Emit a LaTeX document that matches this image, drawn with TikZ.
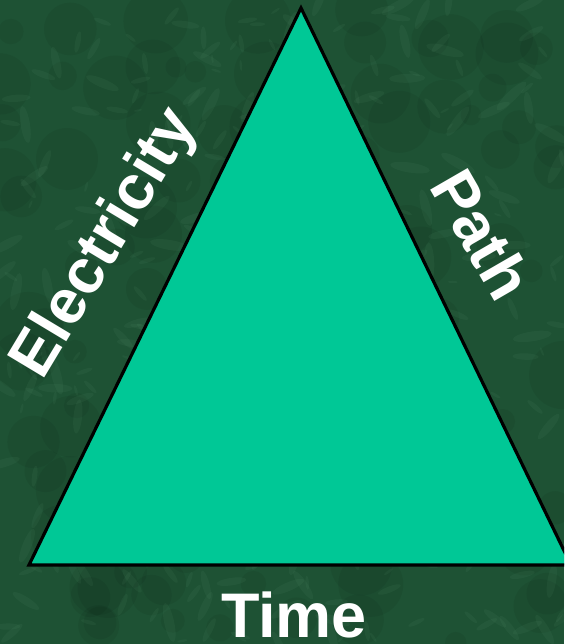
\documentclass[tikz,border=0pt]{standalone}
\usepackage{fontspec}
\setmainfont{Liberation Sans}
\usetikzlibrary{positioning}
\definecolor{marble}{RGB}{30,82,52}
\definecolor{vein}{RGB}{120,180,140}
\definecolor{triteal}{RGB}{0,200,150}

\begin{document}
\begin{tikzpicture}[
    x=1pt, y=-1pt,
    side/.style={text=white, font=\fontsize{63}{70}\selectfont\bfseries, inner sep=0pt},
    tri/.style={fill=triteal, draw=black, line width=3.2pt, line join=miter}
]
\useasboundingbox (0,0) rectangle (564,644);
\clip (0,0) rectangle (564,644);

% marble background
\fill[marble] (0,0) rectangle (564,644);
\pgfmathsetseed{7}
\foreach \i in {1,...,120}{
  \pgfmathsetmacro{\px}{564*rnd}
  \pgfmathsetmacro{\py}{644*rnd}
  \pgfmathsetmacro{\pr}{10+25*rnd}
  \fill[black, opacity=0.06, shift={(\px,\py)}] (0,0) circle [radius=\pr];
}
\foreach \i in {1,...,400}{
  \pgfmathsetmacro{\px}{564*rnd}
  \pgfmathsetmacro{\py}{644*rnd}
  \pgfmathsetmacro{\pa}{180*rnd}
  \pgfmathsetmacro{\pr}{4+16*rnd}
  \fill[vein, opacity=0.07, shift={(\px,\py)}, rotate=\pa] (0,0) ellipse [x radius=\pr, y radius=0.25*\pr];
}

% triangle
\coordinate (apex) at (301,8);
\coordinate (left) at (29,565);
\coordinate (right) at (571,565);
\draw[tri] (apex) -- (left) -- (right) -- cycle;

% side labels
\node[side, anchor=base] (time) at (294,637) {Time};
\node[side, rotate=59] (elec) at (106,244) {Electricity};
\node[side, rotate=-60] (path) at (482,234) {Path};

\end{tikzpicture}
\end{document}
